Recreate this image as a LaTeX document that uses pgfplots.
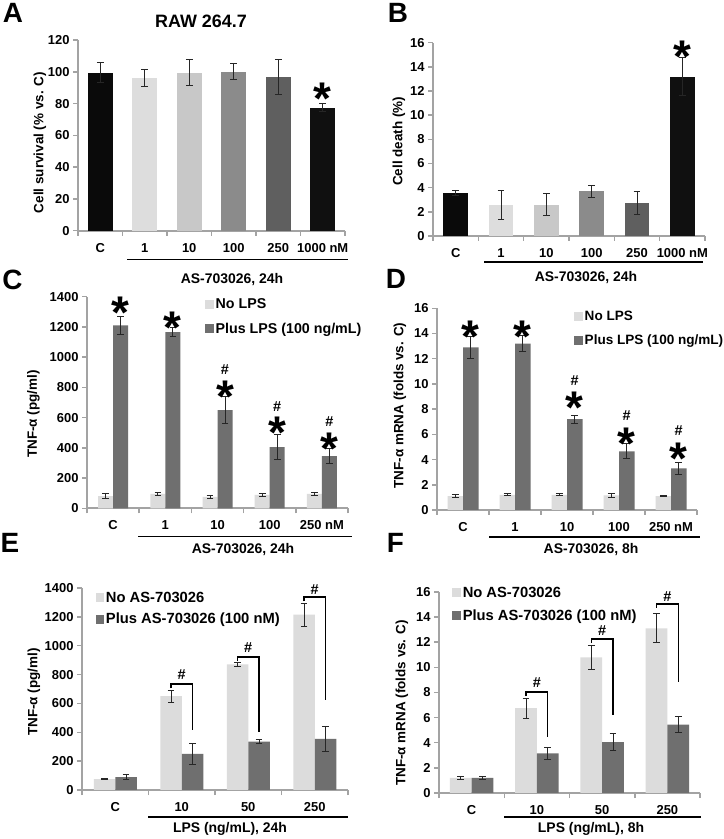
\documentclass[border=0pt]{standalone}
\usepackage{pgfplots}
\pgfplotsset{compat=1.18}
\usepackage{fontspec}
\setmainfont{Liberation Sans}
\definecolor{lt}{HTML}{DCDCDC}
\definecolor{dk}{HTML}{6F6F6F}
\definecolor{axc}{HTML}{A3A3A3}
\definecolor{cA}{HTML}{0A0A0A}
\definecolor{cB}{HTML}{DDDDDD}
\definecolor{cC}{HTML}{C8C8C8}
\definecolor{cD}{HTML}{8B8B8B}
\definecolor{cE}{HTML}{5F5F5F}
\definecolor{cF}{HTML}{101010}
\newcommand\fs[1]{\fontsize{#1}{#1}\selectfont\bfseries}
\newcommand\st{\fontsize{46}{46}\selectfont\bfseries *}
\tikzset{
 astar/.style={anchor=north, inner sep=0pt, yshift=7bp},
 hashn/.style={font=\fs{14.5}, inner sep=0pt},
}
\pgfplotsset{
 sqleg/.style={legend image code/.code={\fill[##1] (0bp,-4.5bp) rectangle (8.5bp,4.5bp);}},
 panel/.style={
  scale only axis, ybar, clip=false, enlargelimits=false,
  axis x line*=bottom, axis y line*=left,
  axis line style={draw=axc, line width=1.8bp},
  tick style={draw=axc, line width=1.5bp},
  tick align=outside, major tick length=5bp,
  ymin=0,
  tick label style={font=\fs{13}},
  label style={font=\fs{13.5}},
  /pgf/number format/assume math mode=true,
  /pgf/number format/1000 sep={},
  xticklabels={},
  extra x tick style={major tick length=0pt, xticklabel style={yshift=-9bp}},
  ylabel style={anchor=center, rotate=0},
  error bars/y dir=both, error bars/y explicit,
  error bars/error bar style={line width=1bp, draw=black!85},
  error bars/error mark options={rotate=90, mark size=3.3bp, line width=1bp, draw=black!85},
  legend cell align=left,
 },
}
\begin{document}
\begin{tikzpicture}[x=1bp,y=1bp]
\fill[white] (0,0) rectangle (724,839);
% ---------------- A
\begin{axis}[panel, at={(78bp,608.3bp)}, anchor=south west, width=267bp, height=190.7bp,
  xmin=-0.5, xmax=5.5, ymax=120, ytick={0,20,...,120},
  xtick={-0.5,0.5,...,5.5},
  extra x ticks={0,1,2,3,4,5}, extra x tick labels={C,1,10,100,250,1000 nM},
  ylabel={Cell survival (\% vs. C)}, ylabel style={at={(axis description cs:-0.1423,0.4625)}},
  title={RAW 264.7}, title style={at={(axis description cs:0.4607,1.068)}, anchor=center, font=\fs{18}},
  bar width=25bp]
\addplot[fill=cA, draw=none, bar shift=0pt] coordinates {(0,99.5) +- (0,6.5)};
\addplot[fill=cB, draw=none, bar shift=0pt] coordinates {(1,96) +- (0,5.5)};
\addplot[fill=cC, draw=none, bar shift=0pt] coordinates {(2,99.5) +- (0,8)};
\addplot[fill=cD, draw=none, bar shift=0pt] coordinates {(3,100) +- (0,5)};
\addplot[fill=cE, draw=none, bar shift=0pt] coordinates {(4,97) +- (0,11)};
\addplot[fill=cF, draw=none, bar shift=0pt] coordinates {(5,77.5) +- (0,2.5)};
\node[astar] at (axis cs:5,88.5) {\st};
\end{axis}
% ---------------- B
\begin{axis}[panel, at={(433bp,603bp)}, anchor=south west, width=272bp, height=193.3bp,
  xmin=-0.5, xmax=5.5, ymax=16, ytick={0,2,...,16},
  xtick={-0.5,0.5,...,5.5},
  extra x ticks={0,1,2,3,4,5}, extra x tick labels={C,1,10,100,250,1000 nM},
  ylabel={Cell death (\%)}, ylabel style={at={(axis description cs:-0.125,0.489)}},
  bar width=24.7bp]
\addplot[fill=cA, draw=none, bar shift=0pt] coordinates {(0,3.55) +- (0,0.2)};
\addplot[fill=cB, draw=none, bar shift=0pt] coordinates {(1,2.6) +- (0,1.2)};
\addplot[fill=cC, draw=none, bar shift=0pt] coordinates {(2,2.6) +- (0,0.9)};
\addplot[fill=cD, draw=none, bar shift=0pt] coordinates {(3,3.7) +- (0,0.5)};
\addplot[fill=cE, draw=none, bar shift=0pt] coordinates {(4,2.75) +- (0,0.95)};
\addplot[fill=cF, draw=none, bar shift=0pt] coordinates {(5,13.2) +- (0,1.6)};
\node[astar] at (axis cs:5,15.6) {\st};
\end{axis}
% ---------------- C
\begin{axis}[panel, at={(87bp,330.7bp)}, anchor=south west, width=261bp, height=211.6bp,
  xmin=-0.5, xmax=4.5, ymax=1400, ytick={0,200,...,1400},
  xtick={-0.5,0.5,...,4.5},
  extra x ticks={0,1,2,3,4}, extra x tick labels={C,1,10,100,250 nM},
  ylabel={TNF-α (pg/ml)}, ylabel style={at={(axis description cs:-0.205,0.4456)}},
  ybar=0pt, bar width=15bp,
  legend style={draw=none, fill=none, at={(axis description cs:0.452,1.002)}, anchor=north west, font=\fs{14.3}, row sep=9bp, inner sep=0pt}]
\addplot[fill=lt, draw=none, sqleg] coordinates {(0,80) +- (0,15) (1,95) +- (0,8) (2,75) +- (0,8) (3,88) +- (0,8) (4,95) +- (0,8)};
\addplot[fill=dk, draw=none, sqleg] coordinates {(0,1210) +- (0,60) (1,1165) +- (0,30) (2,650) +- (0,90) (3,405) +- (0,85) (4,345) +- (0,50)};
\legend{No LPS, Plus LPS (100 ng/mL)}
\node[astar, xshift=7.5bp] at (axis cs:0,1355) {\st};
\node[astar, xshift=7.5bp] at (axis cs:1,1256) {\st};
\node[astar, xshift=7.5bp] at (axis cs:2,800) {\st};
\node[astar, xshift=7.5bp] at (axis cs:3,561) {\st};
\node[astar, xshift=7.5bp] at (axis cs:4,452) {\st};
\node[hashn, xshift=7.5bp] at (axis cs:2,915) {\#};
\node[hashn, xshift=7.5bp] at (axis cs:3,670) {\#};
\node[hashn, xshift=7.5bp] at (axis cs:4,571) {\#};
\end{axis}
% ---------------- D
\begin{axis}[panel, at={(437bp,329bp)}, anchor=south west, width=260bp, height=201.7bp,
  xmin=-0.5, xmax=4.5, ymax=16, ytick={0,2,...,16},
  xtick={-0.5,0.5,...,4.5},
  extra x ticks={0,1,2,3,4}, extra x tick labels={C,1,10,100,250 nM},
  ylabel={TNF-α mRNA (folds vs. C)}, ylabel style={at={(axis description cs:-0.1423,0.518)}},
  ybar=0pt, bar width=15.5bp,
  legend style={draw=none, fill=none, at={(axis description cs:0.527,0.995)}, anchor=north west, font=\fs{13.6}, row sep=8bp, inner sep=0pt}]
\addplot[fill=lt, draw=none, sqleg] coordinates {(0,1.1) +- (0,0.1) (1,1.2) +- (0,0.08) (2,1.2) +- (0,0.08) (3,1.15) +- (0,0.12) (4,1.1) +- (0,0.04)};
\addplot[fill=dk, draw=none, sqleg] coordinates {(0,12.9) +- (0,0.85) (1,13.2) +- (0,0.65) (2,7.2) +- (0,0.3) (3,4.65) +- (0,0.6) (4,3.3) +- (0,0.45)};
\legend{No LPS, Plus LPS (100 ng/mL)}
\node[astar, xshift=7.75bp] at (axis cs:0,14.48) {\st};
\node[astar, xshift=7.75bp] at (axis cs:1,14.48) {\st};
\node[astar, xshift=7.75bp] at (axis cs:2,8.85) {\st};
\node[astar, xshift=7.75bp] at (axis cs:3,6.0) {\st};
\node[astar, xshift=7.75bp] at (axis cs:4,4.8) {\st};
\node[hashn, xshift=7.75bp] at (axis cs:2,10.3) {\#};
\node[hashn, xshift=7.75bp] at (axis cs:3,7.48) {\#};
\node[hashn, xshift=7.75bp] at (axis cs:4,6.29) {\#};
\end{axis}
% ---------------- E
\begin{axis}[panel, at={(82bp,49bp)}, anchor=south west, width=266bp, height=202bp,
  xmin=-0.5, xmax=3.5, ymax=1400, ytick={0,200,...,1400},
  xtick={-0.5,0.5,...,3.5},
  extra x ticks={0,1,2,3}, extra x tick labels={C,10,50,250},
  ylabel={TNF-α (pg/ml)}, ylabel style={at={(axis description cs:-0.1805,0.485)}},
  ybar=0pt, bar width=21.5bp,
  legend style={draw=none, fill=none, at={(axis description cs:0.05,0.992)}, anchor=north west, font=\fs{14.8}, row sep=5.5bp, inner sep=0pt}]
\addplot[fill=lt, draw=none, sqleg] coordinates {(0,75) +- (0,5) (1,650) +- (0,42) (2,870) +- (0,12) (3,1215) +- (0,80)};
\addplot[fill=dk, draw=none, sqleg] coordinates {(0,90) +- (0,15) (1,250) +- (0,75) (2,335) +- (0,12) (3,355) +- (0,85)};
\legend{No AS-703026, Plus AS-703026 (100 nM)}
\draw[line width=1.4bp] ([xshift=-10.75bp]axis cs:1,705) -- ([xshift=-10.75bp]axis cs:1,735) -- ([xshift=10.75bp]axis cs:1,735) -- ([xshift=10.75bp]axis cs:1,416);
\draw[line width=1.4bp] ([xshift=-10.75bp]axis cs:2,892) -- ([xshift=-10.75bp]axis cs:2,922) -- ([xshift=10.75bp]axis cs:2,922) -- ([xshift=10.75bp]axis cs:2,400);
\draw[line width=1.4bp] ([xshift=-10.75bp]axis cs:3,1307) -- ([xshift=-10.75bp]axis cs:3,1337) -- ([xshift=10.75bp]axis cs:3,1337) -- ([xshift=10.75bp]axis cs:3,624);
\node[hashn] at (axis cs:1,797) {\#};
\node[hashn] at (axis cs:2,984) {\#};
\node[hashn] at (axis cs:3,1386) {\#};
\end{axis}
% ---------------- F
\begin{axis}[panel, at={(439bp,46bp)}, anchor=south west, width=261bp, height=201bp,
  xmin=-0.5, xmax=3.5, ymax=16, ytick={0,2,...,16},
  xtick={-0.5,0.5,...,3.5},
  extra x ticks={0,1,2,3}, extra x tick labels={C,10,50,250},
  ylabel={TNF-α mRNA (folds vs. C)}, ylabel style={at={(axis description cs:-0.1418,0.448)}},
  ybar=0pt, bar width=21.75bp,
  legend style={draw=none, fill=none, at={(axis description cs:0.05,1.036)}, anchor=north west, font=\fs{14.8}, row sep=7bp, inner sep=0pt}]
\addplot[fill=lt, draw=none, sqleg] coordinates {(0,1.2) +- (0,0.1) (1,6.75) +- (0,0.8) (2,10.8) +- (0,0.95) (3,13.1) +- (0,1.15)};
\addplot[fill=dk, draw=none, sqleg] coordinates {(0,1.2) +- (0,0.15) (1,3.15) +- (0,0.45) (2,4.05) +- (0,0.65) (3,5.45) +- (0,0.65)};
\legend{No AS-703026, Plus AS-703026 (100 nM)}
\draw[line width=1.4bp] ([xshift=-10.9bp]axis cs:1,7.72) -- ([xshift=-10.9bp]axis cs:1,8.04) -- ([xshift=10.9bp]axis cs:1,8.04) -- ([xshift=10.9bp]axis cs:1,4.46);
\draw[line width=1.4bp] ([xshift=-10.9bp]axis cs:2,11.94) -- ([xshift=-10.9bp]axis cs:2,12.26) -- ([xshift=10.9bp]axis cs:2,12.26) -- ([xshift=10.9bp]axis cs:2,6.2);
\draw[line width=1.4bp] ([xshift=-10.9bp]axis cs:3,14.73) -- ([xshift=-10.9bp]axis cs:3,15.05) -- ([xshift=10.9bp]axis cs:3,15.05) -- ([xshift=10.9bp]axis cs:3,8.84);
\node[hashn] at (axis cs:1,8.76) {\#};
\node[hashn] at (axis cs:2,12.9) {\#};
\node[hashn] at (axis cs:3,15.65) {\#};
\end{axis}
% ---------------- group lines and labels
\draw[line width=1.3bp] (127,{839-259.3}) -- (348,{839-259.3});
\node[font=\fs{14}, anchor=base] at (232,{839-283.5}) {AS-703026, 24h};
\draw[line width=1.3bp] (484,{839-262}) -- (703,{839-262});
\node[font=\fs{14}, anchor=base] at (586,{839-282}) {AS-703026, 24h};
\draw[line width=1.3bp] (138,{839-536.7}) -- (352,{839-536.7});
\node[font=\fs{14}, anchor=base] at (243,{839-553.5}) {AS-703026, 24h};
\draw[line width=1.3bp] (489,{839-537}) -- (700,{839-537});
\node[font=\fs{14}, anchor=base] at (591,{839-553.5}) {AS-703026, 8h};
\draw[line width=1.3bp] (148,{839-817}) -- (348,{839-817});
\node[font=\fs{14}, anchor=base] at (230,{839-833}) {LPS (ng/mL), 24h};
\draw[line width=1.3bp] (504,{839-817}) -- (701,{839-817});
\node[font=\fs{14}, anchor=base] at (591,{839-833}) {LPS (ng/mL), 8h};
% ---------------- panel letters
\node[font=\fs{28}] at (13,{839-13}) {A};
\node[font=\fs{28}] at (398,{839-13}) {B};
\node[font=\fs{28}] at (12.5,{839-280}) {C};
\node[font=\fs{28}] at (396,{839-279}) {D};
\node[font=\fs{28}] at (10,{839-543}) {E};
\node[font=\fs{28}] at (395.5,{839-542.5}) {F};
\pgfresetboundingbox
\useasboundingbox (0,0) rectangle (724,839);
\end{tikzpicture}
\end{document}
